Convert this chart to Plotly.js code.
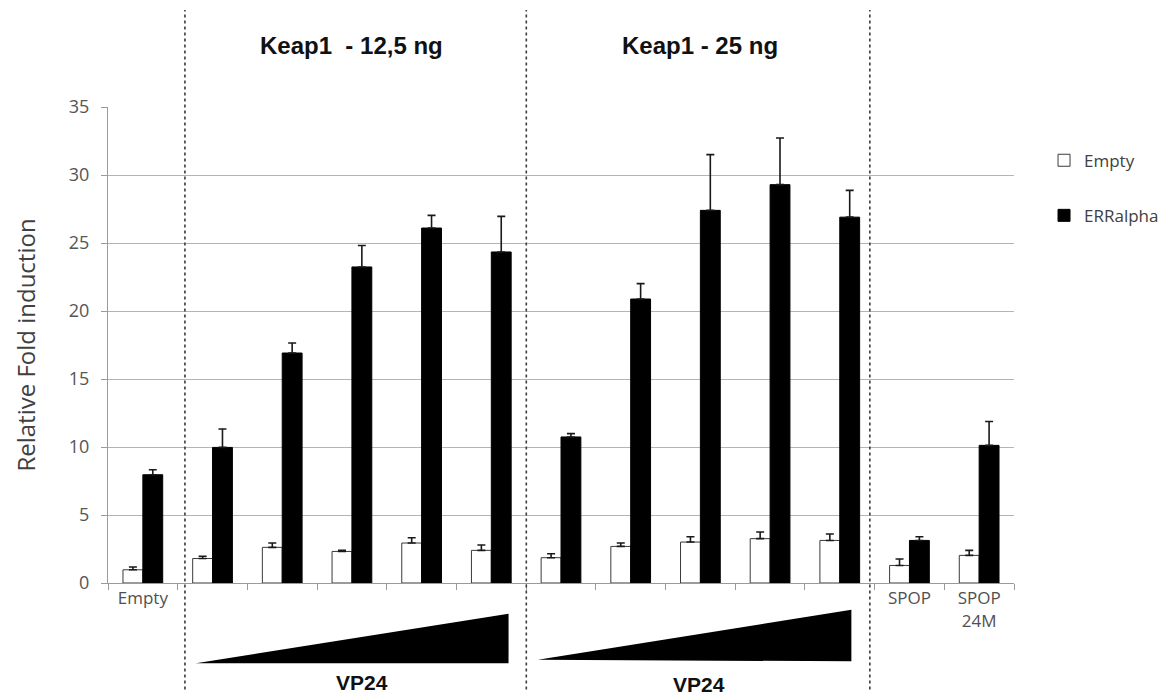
<!DOCTYPE html>
<html>
<head>
<meta charset="utf-8">
<script src="https://cdn.plot.ly/plotly-3.0.1.min.js"></script>
<style>html,body{margin:0;padding:0;background:#fff;}#chart{width:1175px;height:697px;}</style>
</head>
<body>
<div id="chart"></div>
<script>
// Categories (x axis)
const categories = [
  "Empty",
  "VP24 1 (Keap1 12,5 ng)", "VP24 2 (Keap1 12,5 ng)", "VP24 3 (Keap1 12,5 ng)", "VP24 4 (Keap1 12,5 ng)", "VP24 5 (Keap1 12,5 ng)",
  "VP24 1 (Keap1 25 ng)", "VP24 2 (Keap1 25 ng)", "VP24 3 (Keap1 25 ng)", "VP24 4 (Keap1 25 ng)", "VP24 5 (Keap1 25 ng)",
  "SPOP", "SPOP 24M"
];
const tickLabels = ["Empty", "", "", "", "", "", "", "", "", "", "", "SPOP", "SPOP<br>24M"];

// Series values (Relative Fold induction) and upper error bars
const emptyValues = [0.97, 1.80, 2.62, 2.32, 2.94, 2.40, 1.86, 2.69, 3.01, 3.26, 3.13, 1.29, 2.03];
const emptyErrors = [0.21, 0.17, 0.32, 0.08, 0.39, 0.39, 0.29, 0.25, 0.39, 0.49, 0.47, 0.47, 0.37];
const erraValues  = [7.96, 9.97, 16.91, 23.24, 26.10, 24.34, 10.74, 20.88, 27.40, 29.29, 26.90, 3.13, 10.12];
const erraErrors  = [0.37, 1.35, 0.74, 1.58, 0.93, 2.62, 0.24, 1.13, 4.10, 3.43, 1.97, 0.27, 1.76];

// Y ticks
const yTicks = [0, 5, 10, 15, 20, 25, 30, 35];

// Group annotations
const groupTitles = ["Keap1  - 12,5 ng", "Keap1 - 25 ng"];
const doseLabel = "VP24";

const zeros = categories.map(() => 0);

const traces = [
  {
    type: "bar",
    name: "Empty",
    legendgroup: "a",
    x: categories,
    y: emptyValues,
    marker: {color: "#ffffff", line: {color: "#3a3a3a", width: 1}},
    error_y: {type: "data", symmetric: false, array: emptyErrors, arrayminus: zeros,
              color: "#1a1a1a", thickness: 1.6, width: 4},
    hoverinfo: "x+y"
  },
  {
    type: "bar",
    name: "ERRalpha",
    legendgroup: "b",
    x: categories,
    y: erraValues,
    marker: {color: "#000000", line: {color: "#000000", width: 1}},
    error_y: {type: "data", symmetric: false, array: erraErrors, arrayminus: zeros,
              color: "#1a1a1a", thickness: 1.6, width: 4},
    hoverinfo: "x+y"
  }
];

const dotLine = {color: "#3c3c3c", width: 1.6, dash: "dot"};
const shapes = [
  {type: "line", xref: "paper", yref: "paper", x0: 0.0849, x1: 0.0849, y0: -0.224, y1: 1.204, line: dotLine},
  {type: "line", xref: "paper", yref: "paper", x0: 0.4617, x1: 0.4617, y0: -0.224, y1: 1.204, line: dotLine},
  {type: "line", xref: "paper", yref: "paper", x0: 0.8409, x1: 0.8409, y0: -0.224, y1: 1.204, line: dotLine},
  {type: "path", xref: "paper", yref: "paper", path: "M0.0970,-0.1685 L0.4421,-0.0647 L0.4421,-0.1685 Z",
   fillcolor: "#000000", line: {width: 0}},
  {type: "path", xref: "paper", yref: "paper", path: "M0.4744,-0.1613 L0.8205,-0.0563 L0.8205,-0.1645 Z",
   fillcolor: "#000000", line: {width: 0}}
];

const titleFont = {family: "Liberation Sans, Arial, sans-serif", size: 24, color: "#111111"};
const doseFont = {family: "Liberation Sans, Arial, sans-serif", size: 21, color: "#111111"};
const annotations = [
  {text: "<b>" + groupTitles[0] + "</b>", xref: "x", yref: "paper", x: 3.0, y: 1.129,
   xanchor: "center", yanchor: "middle", showarrow: false, font: titleFont},
  {text: "<b>" + groupTitles[1] + "</b>", xref: "x", yref: "paper", x: 8.0, y: 1.129,
   xanchor: "center", yanchor: "middle", showarrow: false, font: titleFont},
  {text: "<b>" + doseLabel + "</b>", xref: "paper", yref: "paper", x: 0.280, y: -0.2095,
   xanchor: "center", yanchor: "middle", showarrow: false, font: doseFont},
  {text: "<b>" + doseLabel + "</b>", xref: "paper", yref: "paper", x: 0.652, y: -0.2135,
   xanchor: "center", yanchor: "middle", showarrow: false, font: doseFont}
];

const layout = {
  width: 1175,
  height: 697,
  margin: {l: 108, r: 160, t: 107, b: 114},
  paper_bgcolor: "#ffffff",
  plot_bgcolor: "#ffffff",
  font: {family: "Open Sans, sans-serif", color: "#505050"},
  barmode: "group",
  bargap: 0.43,
  bargroupgap: 0,
  showlegend: true,
  legend: {
    x: 1.032, xanchor: "left", y: 0.925, yanchor: "top",
    font: {family: "Open Sans, sans-serif", size: 17, color: "#404040"},
    traceorder: "grouped", tracegroupgap: 30, bgcolor: "rgba(0,0,0,0)"
  },
  xaxis: {
    type: "category",
    categoryorder: "array",
    categoryarray: categories,
    tickmode: "array",
    tickvals: categories,
    ticktext: tickLabels,
    tickson: "boundaries",
    ticks: "outside",
    ticklen: 6,
    tickcolor: "#9a9a9a",
    showline: true,
    linecolor: "#9a9a9a",
    linewidth: 1,
    showgrid: false,
    tickfont: {family: "Open Sans, sans-serif", size: 17, color: "#505050"},
    fixedrange: true
  },
  yaxis: {
    range: [0, 35],
    tickmode: "array",
    tickvals: yTicks,
    ticks: "outside",
    ticklen: 6,
    tickcolor: "#9a9a9a",
    ticklabelstandoff: 8,
    showline: true,
    linecolor: "#9a9a9a",
    linewidth: 1,
    showgrid: true,
    gridcolor: "#b5b5b5",
    gridwidth: 1,
    zeroline: false,
    tickfont: {family: "Open Sans, sans-serif", size: 18, color: "#555555"},
    title: {text: "Relative Fold induction", font: {family: "Open Sans, sans-serif", size: 24, color: "#404040"}, standoff: 26},
    fixedrange: true
  },
  shapes: shapes,
  annotations: annotations
};

Plotly.newPlot("chart", traces, layout, {displayModeBar: false});
</script>
</body>
</html>
